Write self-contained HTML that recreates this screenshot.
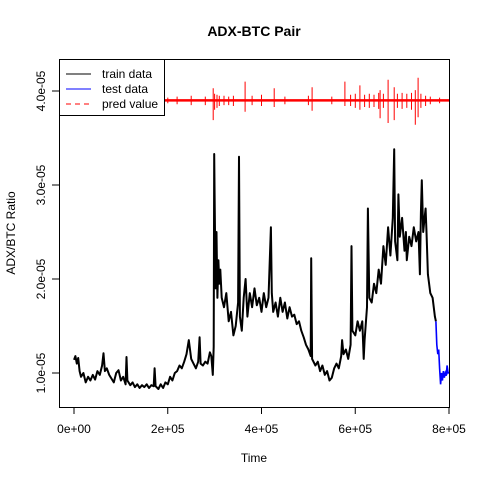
<!DOCTYPE html>
<html><head><meta charset="utf-8"><style>
body{margin:0;background:#fff}
svg{display:block;font-family:"Liberation Sans",Arial,sans-serif}
</style></head><body>
<svg id="chart" width="480" height="480" viewBox="0 0 480 480">
<rect width="480" height="480" fill="#fff"/>
<text x="254" y="36" text-anchor="middle" font-size="14" font-weight="bold">ADX-BTC Pair</text>
<text x="254" y="462" text-anchor="middle" font-size="12">Time</text>
<text transform="translate(15,233) rotate(-90)" text-anchor="middle" font-size="12">ADX/BTC  Ratio</text>
<g id="marks"></g>
<g id="axes"></g>
<rect x="59.5" y="59.5" width="390" height="348" fill="none" stroke="#000"/>
<g>
<rect x="59.5" y="59.5" width="105" height="56" fill="#fff" stroke="#000"/>
<line x1="66" y1="74" x2="91" y2="74" stroke="#000"/>
<text x="102" y="78" font-size="12">train data</text>
<line x1="66" y1="89" x2="91" y2="89" stroke="#00f"/>
<text x="102" y="93" font-size="12">test data</text>
<line x1="66" y1="104" x2="91" y2="104" stroke="#f00" stroke-dasharray="5,4"/>
<text x="102" y="108" font-size="12">pred value</text>
</g>
</svg>
<script>
// x in units of 1e5, y in units of 1e-5
const trainX=[0,0.03,0.06,0.09,0.12,0.15,0.2,0.25,0.3,0.35,0.4,0.45,0.5,0.55,0.6,0.63,0.66,0.7,0.75,0.8,0.85,0.9,0.95,1.0,1.05,1.1,1.12,1.14,1.2,1.25,1.3,1.35,1.4,1.45,1.5,1.55,1.6,1.65,1.7,1.72,1.74,1.8,1.85,1.9,1.95,2.0,2.05,2.1,2.15,2.2,2.25,2.3,2.35,2.4,2.45,2.5,2.55,2.6,2.65,2.68,2.7,2.75,2.8,2.85,2.9,2.93,2.96,2.98,2.99,3.0,3.02,3.04,3.06,3.08,3.1,3.12,3.15,3.2,3.25,3.3,3.35,3.4,3.45,3.5,3.52,3.54,3.58,3.62,3.66,3.7,3.75,3.8,3.85,3.9,3.95,4.0,4.05,4.1,4.15,4.2,4.22,4.25,4.3,4.35,4.4,4.45,4.5,4.55,4.6,4.65,4.7,4.75,4.8,4.85,4.9,4.95,5.0,5.05,5.06,5.08,5.15,5.2,5.25,5.3,5.35,5.4,5.45,5.5,5.55,5.6,5.65,5.7,5.72,5.75,5.8,5.85,5.9,5.92,5.94,6.0,6.05,6.1,6.15,6.18,6.2,6.25,6.27,6.3,6.35,6.4,6.45,6.5,6.55,6.6,6.65,6.7,6.75,6.8,6.83,6.85,6.9,6.92,6.95,7.0,7.05,7.08,7.1,7.15,7.2,7.25,7.3,7.35,7.38,7.4,7.42,7.45,7.48,7.5,7.52,7.55,7.6,7.65,7.7,7.72];
const trainY=[1.14,1.18,1.10,1.16,1.02,0.96,1.00,0.90,0.96,0.92,0.98,0.93,1.02,0.98,1.08,1.21,1.02,1.05,0.98,0.94,0.90,1.00,1.03,0.92,0.96,0.88,1.17,0.92,0.87,0.90,0.85,0.88,0.84,0.87,0.85,0.88,0.84,0.87,0.86,1.05,0.86,0.83,0.88,0.84,0.90,0.88,0.96,0.92,1.00,1.02,1.08,1.05,1.12,1.20,1.35,1.15,1.10,1.05,1.12,1.38,1.10,1.08,1.12,1.10,1.22,1.18,0.98,1.28,3.33,2.90,1.90,2.50,1.80,2.20,1.95,2.10,1.80,1.70,1.85,1.55,1.65,1.40,1.50,1.75,3.30,1.60,1.45,1.80,2.00,1.60,1.85,1.70,1.90,1.72,1.80,1.65,1.85,1.70,1.80,2.55,1.85,1.65,1.75,1.60,1.80,1.65,1.75,1.58,1.70,1.60,1.62,1.52,1.55,1.45,1.38,1.30,1.25,1.18,2.22,1.15,1.08,1.12,1.02,1.08,0.98,1.02,0.92,0.95,1.05,1.10,1.05,1.18,1.35,1.20,1.25,1.15,1.30,2.35,1.45,1.40,1.55,1.45,1.55,1.15,1.35,1.70,2.75,1.80,1.75,1.95,1.85,2.10,1.95,2.35,2.15,2.55,2.25,2.65,3.38,2.40,2.20,2.90,2.45,2.65,2.30,2.50,2.20,2.45,2.35,2.55,2.40,2.50,2.05,2.70,3.05,2.50,2.65,2.75,2.50,2.05,1.85,1.80,1.60,1.55];
const testX=[7.72,7.74,7.76,7.78,7.80,7.82,7.84,7.86,7.88,7.9,7.92,7.94,7.96,7.98,8.0];
const testY=[1.55,1.30,1.20,1.25,1.05,0.88,1.00,0.92,1.02,0.95,1.00,0.97,1.08,1.00,1.01];
const predBase=3.90;
const predX=[0.2,0.5,0.8,1.1,1.4,1.7,2.0,2.2,2.5,2.8,2.97,3.0,3.05,3.1,3.2,3.3,3.4,3.65,3.8,4.0,4.27,4.5,5.0,5.08,5.5,5.78,5.9,6.0,6.1,6.2,6.3,6.4,6.5,6.53,6.6,6.7,6.83,6.9,7.0,7.1,7.2,7.28,7.34,7.4,7.5,7.6,7.8];
const predHi=[3.92,3.93,3.92,3.93,3.92,3.93,3.93,3.94,3.95,3.94,4.03,3.97,3.96,3.95,3.95,3.94,3.95,4.10,3.95,3.96,4.03,3.94,3.95,4.04,3.94,4.10,3.96,3.97,4.06,3.96,3.97,3.96,3.98,4.01,3.97,4.12,4.04,3.97,3.98,3.97,3.98,4.01,4.14,3.97,3.95,3.94,3.93];
const predLo=[3.88,3.87,3.88,3.87,3.88,3.87,3.87,3.86,3.85,3.85,3.69,3.80,3.82,3.84,3.85,3.85,3.84,3.78,3.85,3.84,3.83,3.86,3.85,3.79,3.86,3.84,3.84,3.82,3.80,3.83,3.82,3.83,3.81,3.71,3.82,3.66,3.69,3.82,3.81,3.82,3.80,3.64,3.72,3.82,3.84,3.86,3.87];
const xTicks=[0,2,4,6,8];
const xTickLabels=["0e+00","2e+05","4e+05","6e+05","8e+05"];
const yTicks=[1,2,3,4];
const yTickLabels=["1.0e-05","2.0e-05","3.0e-05","4.0e-05"];

const sx=v=>74+v*46.875;
const sy=v=>373-(v-1)*94;
const NS="http://www.w3.org/2000/svg";
const marks=document.getElementById('marks');
const axes=document.getElementById('axes');
function mk(tag,attrs,parent){const e=document.createElementNS(NS,tag);for(const k in attrs)e.setAttribute(k,attrs[k]);parent.appendChild(e);return e;}
function line(xs,ys){return xs.map((x,i)=>(i?'L':'M')+sx(x).toFixed(1)+','+sy(ys[i]).toFixed(1)).join('');}

const base=mk('line',{x1:sx(0),x2:sx(8),y1:sy(predBase),y2:sy(predBase),stroke:'#f00','stroke-width':2.5},marks);


let pd='';
predX.forEach((x,i)=>{pd+='M'+sx(x).toFixed(1)+','+sy(predHi[i]).toFixed(1)+'L'+sx(x).toFixed(1)+','+sy(predLo[i]).toFixed(1);});
const pr=mk('path',{d:pd,fill:'none',stroke:'#f00','stroke-width':1},marks);



const tr=mk('path',{d:line(trainX,trainY),fill:'none',stroke:'#000','stroke-width':2,'stroke-linejoin':'round'},marks);


const te=mk('path',{d:line(testX,testY),fill:'none',stroke:'#00f','stroke-width':1.6},marks);



xTicks.forEach((t,i)=>{
  const l=mk('line',{x1:sx(t),x2:sx(t),y1:407,y2:414,stroke:'#000'},axes);
  
  
  const tx=mk('text',{x:sx(t),y:433,'text-anchor':'middle','font-size':12},axes);
  tx.textContent=xTickLabels[i];
  
  
});
mk('line',{x1:sx(0),x2:sx(8),y1:407.5,y2:407.5,stroke:'#000'},axes);
yTicks.forEach((t,i)=>{
  const l=mk('line',{x1:52,x2:59,y1:sy(t),y2:sy(t),stroke:'#000'},axes);
  
  
  const tx=mk('text',{transform:`translate(45,${sy(t)}) rotate(-90)`,'text-anchor':'middle','font-size':12},axes);
  tx.textContent=yTickLabels[i];
  
  
});
</script>
</body></html>
